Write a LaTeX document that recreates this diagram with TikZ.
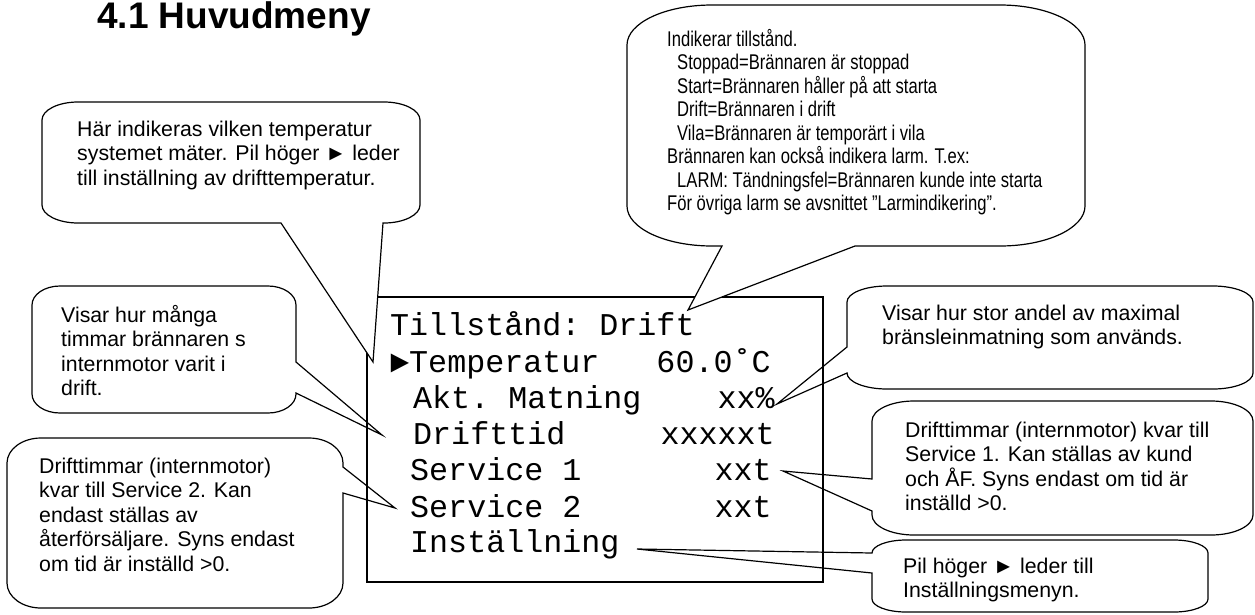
\documentclass[tikz,border=0pt]{standalone}
\usepackage{fontspec}
\setmainfont{Liberation Sans}
\newfontfamily\csans{Liberation Sans}
\newfontfamily\cnarrow[FakeStretch=0.78]{Liberation Sans}
\newfontfamily\cmono{Liberation Mono}
\newcommand\lns[1]{\vtop{\lineskiplimit=-1000pt\lineskip=0pt\halign{##\hfil\cr #1\crcr}}}
\def\setc#1#2#3#4#5#6{\def\cL{#1}\def\cT{#2}\def\cR{#3}\def\cB{#4}\def\crx{#5}\def\cry{#6}}
\def\cTL{(\cL,{\cT+\cry}) .. controls (\cL,{\cT+0.448*\cry}) and ({\cL+0.448*\crx},\cT) .. ({\cL+\crx},\cT) -- ({\cR-\crx},\cT)}
\def\cTR{.. controls ({\cR-0.448*\crx},\cT) and (\cR,{\cT+0.448*\cry}) .. (\cR,{\cT+\cry})}
\def\cBR{-- (\cR,{\cB-\cry}) .. controls (\cR,{\cB-0.448*\cry}) and ({\cR-0.448*\crx},\cB) .. ({\cR-\crx},\cB)}
\def\cBL{-- ({\cL+\crx},\cB) .. controls ({\cL+0.448*\crx},\cB) and (\cL,{\cB-0.448*\cry}) .. (\cL,{\cB-\cry})}
\begin{document}
\begin{tikzpicture}[x=1pt,y=-1pt,
  cb/.style={draw=black, line width=1.2pt, fill=white},
  ct/.style={anchor=base west, inner sep=0pt, font=\csans\fontsize{21.3}{24.5}\selectfont},
  cn/.style={anchor=base west, inner sep=0pt, font=\cnarrow\fontsize{21.3}{23.5}\selectfont},
  mono/.style={anchor=base west, inner sep=0pt, font=\cmono\fontsize{31.7}{36}\selectfont}]
\useasboundingbox (0,0) rectangle (1255,614);
\fill[white] (0,0) rectangle (1255,614);

\coordinate (t1) at (373,362);
\coordinate (t2) at (688,310);
\coordinate (t3) at (382,435);
\coordinate (t4) at (395,508);
\coordinate (t5) at (777,404);
\coordinate (t6) at (783,471);
\coordinate (t7) at (637,549);

% callouts below the display box
\setc{32}{286}{296}{413}{28}{19}
\draw[cb] \cTL \cTR -- (296,362) -- (t3) -- (296,393) \cBR \cBL -- cycle;
\setc{7}{438}{343}{608}{34}{25}
\draw[cb] \cTL \cTR -- (343,467) -- (t4) -- (343,493) \cBR \cBL -- cycle;
\setc{847}{286}{1253}{389}{40}{16}
\draw[cb] \cTL \cTR \cBR \cBL -- (847,373) -- (t5) -- (847,347) -- cycle;
\setc{872}{401}{1253}{535}{42}{20}
\draw[cb] \cTL \cTR \cBR \cBL -- (872,511) -- (t6) -- (872,479) -- cycle;
\setc{872}{540}{1208}{612}{34}{13}
\draw[cb] \cTL \cTR \cBR \cBL -- (872,573) -- (t7) -- (872,553) -- cycle;

% display box
\node[draw=black, line width=1.2pt, minimum width=456pt, minimum height=285pt, inner sep=0pt] (display) at (595,439.5) {};

% callouts above the display box
\setc{42}{102}{420}{223}{36}{18}
\draw[cb] \cTL \cTR \cBR -- (383,223) -- (t1) -- (281,223) \cBL -- cycle;
\setc{627}{5}{1085}{246}{85}{40}
\draw[cb] \cTL \cTR \cBR -- (855,246) -- (t2) -- (722,246) \cBL -- cycle;

% title
\node[anchor=base west, inner sep=0pt, font=\csans\bfseries\fontsize{37}{40}\selectfont] (title) at (97,28) {4.1 Huvudmeny};

% callout texts
\node[ct] (txt1) at (77,136) {\lns{Här indikeras vilken temperatur\cr systemet mäter. Pil höger ► leder\cr till inställning av drifttemperatur.}};
\node[cn] (txt2) at (667,46) {\lns{Indikerar tillstånd.\cr
\kern10pt Stoppad=Brännaren är stoppad\cr
\kern10pt Start=Brännaren håller på att starta\cr
\kern10pt Drift=Brännaren i drift\cr
\kern10pt Vila=Brännaren är temporärt i vila\cr
Brännaren kan också indikera larm. T.ex:\cr
\kern10pt LARM: Tändningsfel=Brännaren kunde inte starta\cr
För övriga larm se avsnittet ”Larmindikering”.}};
\node[ct] (txt3) at (61,322) {\lns{Visar hur många\cr timmar brännaren s\cr internmotor varit i\cr drift.}};
\node[ct] (txt4) at (39,473) {\lns{Drifttimmar (internmotor)\cr kvar till Service 2. Kan\cr endast ställas av\cr återförsäljare. Syns endast\cr om tid är inställd >0.}};
\node[ct] (txt5) at (882,320) {\lns{Visar hur stor andel av maximal\cr bränsleinmatning som används.}};
\node[ct] (txt6) at (905,437) {\lns{Drifttimmar (internmotor) kvar till\cr Service 1. Kan ställas av kund\cr och ÅF. Syns endast om tid är\cr inställd >0.}};
\node[ct] (txt7) at (903,573) {\lns{Pil höger ► leder till\cr Inställningsmenyn.}};

% display texts
\node[mono] (l1) at (390,335) {Tillstånd:~Drift};
\node[mono] (l2) at (390,372) {►Temperatur~~~60.0˚C};
\node[mono] (l3) at (413,408) {Akt.~Matning~~~~xx\%};
\node[mono] (l4) at (413,444) {Drifttid~~~~~xxxxxt};
\node[mono] (l5) at (410,480) {Service~1~~~~~~~xxt};
\node[mono] (l6) at (410,517) {Service~2~~~~~~~xxt};
\node[mono] (l7) at (410,552) {Inställning};
\end{tikzpicture}
\end{document}
